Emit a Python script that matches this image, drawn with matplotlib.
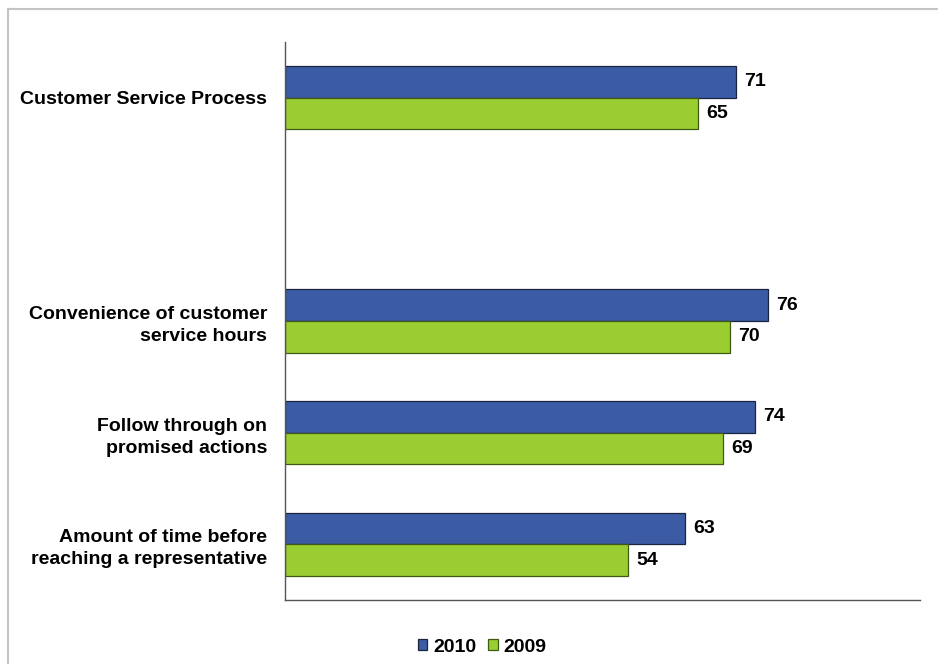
import matplotlib

matplotlib.use("Agg")
import matplotlib.pyplot as plt
import numpy as np
from matplotlib.lines import Line2D

plt.rcParams["font.family"] = ["Liberation Sans", "DejaVu Sans"]
plt.rcParams["font.weight"] = "bold"

categories = [
    "Customer Service Process",
    "",
    "Convenience of customer\nservice hours",
    "Follow through on\npromised actions",
    "Amount of time before\nreaching a representative",
]
values_2010 = [71, np.nan, 76, 74, 63]
values_2009 = [65, np.nan, 70, 69, 54]
series = [("2010", values_2010, "#3B5BA5", "#1c2440"),
          ("2009", values_2009, "#9ACD32", "#3f5a12")]

fig = plt.figure(figsize=(9.38, 6.64), dpi=100)
ax = fig.add_axes([285 / 938, 1 - 600 / 664, 635 / 938, 558 / 664])

pos = np.arange(len(categories))
h = 0.284
for i, (name, vals, color, edge) in enumerate(series):
    y = pos + (i - 0.5) * h
    ax.barh(y, vals, height=h, color=color, edgecolor=edge, lw=0.9,
            label=name)
    for yy, v in zip(y, vals):
        if np.isnan(v):
            continue
        ax.text(v + 1.3, yy, f"{v:g}", va="center", ha="left",
                fontsize=14, fontweight="bold")

ax.set_xlim(0, 100)
ax.set_ylim(len(categories) - 0.5, -0.5)
ax.set_yticks(pos)
ax.set_yticklabels(categories, fontsize=14, fontweight="bold",
                   linespacing=1.4)
ax.tick_params(axis="y", length=0, pad=13)
ax.set_xticks([])
for side in ("top", "right"):
    ax.spines[side].set_visible(False)
for side in ("left", "bottom"):
    ax.spines[side].set_color("#555555")
    ax.spines[side].set_linewidth(1.0)

fig.legend(loc="center", bbox_to_anchor=(482 / 938, 1 - 647 / 664), ncol=2,
           frameon=False, handlelength=0.5, handleheight=0.5,
           handletextpad=0.3, columnspacing=0.6,
           prop={"weight": "bold", "size": 14})

# light frame round the chart area
fig.add_artist(Line2D([8 / 938, 1], [1 - 9 / 664, 1 - 9 / 664],
                      transform=fig.transFigure, color="#c4c4c4", lw=1.5))
fig.add_artist(Line2D([8 / 938, 8 / 938], [0, 1 - 9 / 664],
                      transform=fig.transFigure, color="#c4c4c4", lw=1.5))

fig.savefig("out.png", dpi=100)
